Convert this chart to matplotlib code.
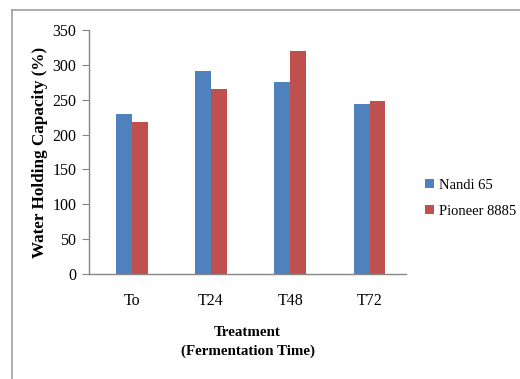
import numpy as np
import matplotlib
matplotlib.use("Agg")
import matplotlib.pyplot as plt
from matplotlib.lines import Line2D

plt.rcParams['font.family'] = ['Liberation Serif', 'DejaVu Serif']

treatments = ['To', 'T24', 'T48', 'T72']
nandi_65 = [230, 291, 275, 244]
pioneer_8885 = [218, 265, 320, 248]

fig = plt.figure(figsize=(5.2, 3.79), dpi=100)
ax = fig.add_axes([89 / 520, 1 - 274 / 379, 317 / 520, 244 / 379])

x = np.arange(len(treatments))
w = 0.2
ax.bar(x - w / 2, nandi_65, w, color='#4F81BD', label='Nandi 65')
ax.bar(x + w / 2, pioneer_8885, w, color='#C0504D', label='Pioneer 8885')

ax.set_xlim(-0.54, 3.46)
ax.set_ylim(0, 350)
ax.set_yticks(np.arange(0, 351, 50))
ax.set_xticks(x)
ax.set_xticklabels(treatments)

for s in ['top', 'right']:
    ax.spines[s].set_visible(False)
for s in ['left', 'bottom']:
    ax.spines[s].set_color('#868686')
    ax.spines[s].set_linewidth(1.0)
ax.tick_params(axis='y', direction='out', length=5, color='#868686', labelsize=11.5, pad=4)
ax.tick_params(axis='x', length=0, labelsize=11.5, pad=14)

ax.set_ylabel('Water Holding Capacity (%)', fontsize=12.3, fontweight='bold', labelpad=3)
ax.set_xlabel('Treatment\n(Fermentation Time)', fontsize=10.8, fontweight='bold', labelpad=12,
              linespacing=1.55)

ax.legend(loc='center left', bbox_to_anchor=(1.02, 0.31), frameon=False, fontsize=10.5,
          handlelength=0.6, handleheight=0.6, handletextpad=0.3, labelspacing=0.9)

# outer chart frame, open to the right and bottom
fig.add_artist(Line2D([12 / 520, 12 / 520], [0, 1 - 10 / 379], color='#A0A0A0', lw=1.2,
                      transform=fig.transFigure))
fig.add_artist(Line2D([12 / 520, 1], [1 - 10 / 379, 1 - 10 / 379], color='#A0A0A0', lw=1.2,
                      transform=fig.transFigure))

fig.savefig('out.png', dpi=100)
